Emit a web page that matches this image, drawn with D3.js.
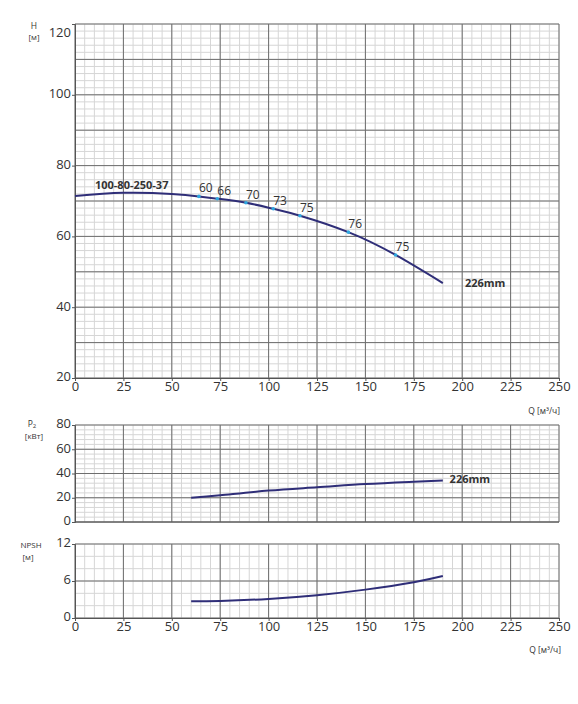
<!DOCTYPE html>
<html><head><meta charset="utf-8">
<script src="https://cdn.jsdelivr.net/npm/d3@7"></script>
<style>
html,body{margin:0;padding:0;background:#fff;}
svg{display:block;font-family:"Open Sans",sans-serif;}
</style></head>
<body>
<svg id="c" width="578" height="704"></svg>
<script>
// ---- data ----
const qTicks = [0,25,50,75,100,125,150,175,200,225,250];
const hTicks = [20,40,60,80,100,120];
const pTicks = [0,20,40,60,80];
const nTicks = [0,6,12];

const headQ = [0,25,50,64,73.5,88.3,102.4,116.2,141.2,165.6,190];
const headH = [71.4,72.3,72.0,71.3,70.65,69.5,67.8,65.85,61.2,54.75,46.8];

const effQ = [64,73.5,88.3,102.4,116.2,141.2,165.6];
const effH = [71.3,70.65,69.5,67.8,65.85,61.2,54.75];
const effLabel = ["60","66","70","73","75","76","75"];

const powerQ = [60,75,100,125,150,175,190];
const powerP = [20,22,25.9,28.6,31.3,33.2,34.3];

const npshQ = [60,75,100,125,150,175,190];
const npshV = [2.7,2.76,3.1,3.7,4.6,5.8,6.8];

const modelName = "100-80-250-37";
const impeller = "226mm";

// ---- layout ----
const svg = d3.select("#c");
const x = d3.scaleLinear().domain([0,250]).range([75,559]);
const yH = d3.scaleLinear().domain([20,120]).range([378,24]);
const yP = d3.scaleLinear().domain([0,80]).range([522,425]);
const yN = d3.scaleLinear().domain([0,12]).range([618,544]);

const MAJ = "#6e6e6e", MIN = "#d6d6d6", TXT = "#333", CURVE = "#2f2e78";

function panel(y, yMinorStep, yMajorTicks, yMin, yMax){
  const g = svg.append("g");
  const minorX = d3.range(0,250.01,5);
  const minorY = d3.range(yMin,yMax+0.01,yMinorStep);
  g.selectAll(".mx").data(minorX).join("line")
    .attr("x1",d=>x(d)).attr("x2",d=>x(d)).attr("y1",y(yMin)).attr("y2",y(yMax))
    .attr("stroke",MIN).attr("stroke-width",1);
  g.selectAll(".my").data(minorY).join("line")
    .attr("x1",x(0)).attr("x2",x(250)).attr("y1",d=>y(d)).attr("y2",d=>y(d))
    .attr("stroke",MIN).attr("stroke-width",1);
  g.selectAll(".Mx").data(qTicks).join("line")
    .attr("x1",d=>x(d)).attr("x2",d=>x(d)).attr("y1",y(yMin)).attr("y2",y(yMax))
    .attr("stroke",MAJ).attr("stroke-width",1);
  g.selectAll(".My").data(yMajorTicks).join("line")
    .attr("x1",x(0)).attr("x2",x(250)).attr("y1",d=>y(d)).attr("y2",d=>y(d))
    .attr("stroke",MAJ).attr("stroke-width",1);
  const ax = svg.append("g").attr("transform",`translate(${x(0)},0)`)
    .call(d3.axisLeft(y).tickValues(yMajorTicks).tickSize(3).tickPadding(1).tickFormat(d3.format("d")));
  ax.select(".domain").attr("stroke","#555");
  ax.selectAll(".tick line").attr("stroke","#555");
  ax.selectAll("text").attr("font-size",13).attr("fill",TXT).attr("font-family","Open Sans").attr("dy","0.22em");
  return ax;
}

const axH = panel(yH, 2, [20,30,40,50,60,70,80,90,100,110,120], 20, 120);
axH.selectAll(".tick").each(function(d){
  if(!hTicks.includes(d)){ d3.select(this).select("text").remove(); d3.select(this).select("line").remove(); }
  if(d===120) d3.select(this).select("text").attr("dy","0.95em");
});
panel(yP, 4, pTicks, 0, 80);
panel(yN, 2, nTicks, 0, 12);

function xAxis(yPix){
  const a = svg.append("g").attr("transform",`translate(0,${yPix})`)
    .call(d3.axisBottom(x).tickValues(qTicks).tickSize(3).tickPadding(1));
  a.select(".domain").attr("stroke","#555");
  a.selectAll(".tick line").attr("stroke","#555");
  a.selectAll("text").attr("font-size",13).attr("fill",TXT).attr("font-family","Open Sans");
}
xAxis(yH(20));
xAxis(yN(0));
svg.append("line").attr("x1",x(0)).attr("x2",x(250)).attr("y1",yP(0)).attr("y2",yP(0)).attr("stroke","#555");

function t(xp,yp,s,size,anchor="middle",weight="normal"){
  return svg.append("text").attr("x",xp).attr("y",yp).attr("font-size",size)
    .attr("text-anchor",anchor).attr("font-weight",weight).attr("fill",TXT).text(s);
}
t(34,29,"H",8.5);
t(34,40,"[м]",8);
const p2 = t(32,427,"P",8.5); p2.append("tspan").attr("font-size",6).attr("dy",1).text("2");
t(34,439,"[кВт]",8);
t(31,548,"NPSH",8);
t(28,560,"[м]",8);
t(560,414,"Q [м³/ч]",8.5,"end");
t(561,653,"Q [м³/ч]",8.5,"end");

const line = (xs,ys,y)=>d3.line().x((d,i)=>x(xs[i])).y((d,i)=>y(ys[i])).curve(d3.curveNatural)(xs);
svg.append("path").attr("d",line(headQ,headH,yH)).attr("fill","none").attr("stroke",CURVE).attr("stroke-width",2);
svg.append("path").attr("d",line(powerQ,powerP,yP)).attr("fill","none").attr("stroke",CURVE).attr("stroke-width",2);
svg.append("path").attr("d",line(npshQ,npshV,yN)).attr("fill","none").attr("stroke",CURVE).attr("stroke-width",2);

svg.selectAll(".eff").data(effQ).join("circle")
  .attr("cx",d=>x(d)).attr("cy",(d,i)=>yH(effH[i])).attr("r",1.8).attr("fill","#2fa8e0");
svg.selectAll(".effl").data(effQ).join("text")
  .attr("x",d=>x(d)).attr("y",(d,i)=>yH(effH[i])-4)
  .attr("font-size",12).attr("fill",TXT).text((d,i)=>effLabel[i]);

t(x(10.3),yH(73.4),modelName,11,"start","bold");
t(x(201.4),yH(45.7),impeller,11,"start","bold");
t(x(193.5),yP(32.0),impeller,11,"start","bold");
</script>
</body></html>
